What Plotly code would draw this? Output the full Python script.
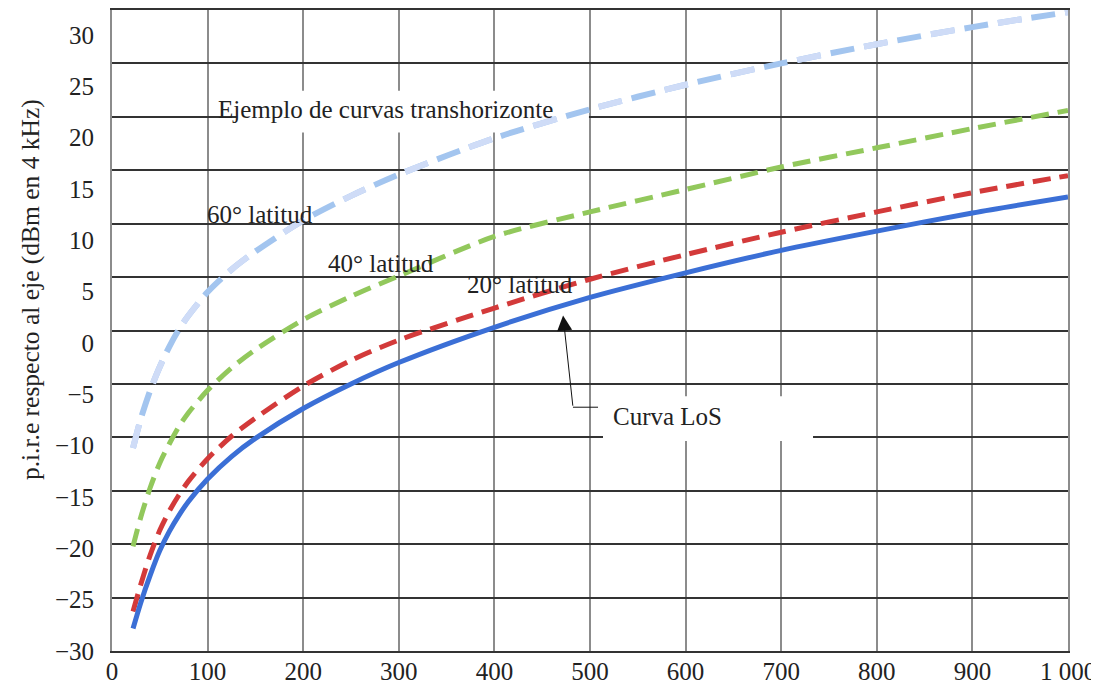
import plotly.graph_objects as go

# ---- data ----
distance = [22, 30, 40, 50, 60, 70, 80, 100, 125, 150, 200, 250, 300, 400, 500, 600, 700, 800, 900, 1000]
los = [-27.9, -25.5, -22.9, -20.6, -18.8, -17.3, -16.0, -13.9, -11.8, -10.1, -7.3, -5.0, -3.0, 0.3, 3.1, 5.4, 7.5, 9.3, 11.0, 12.5]
lat20 = [-26.3, -23.8, -21.0, -18.7, -16.9, -15.4, -14.1, -12.0, -9.9, -8.2, -5.2, -2.8, -0.9, 2.1, 4.8, 7.1, 9.2, 11.1, 12.9, 14.5]
lat40 = [-20.2, -17.5, -14.7, -12.4, -10.6, -9.0, -7.7, -5.6, -3.5, -1.8, 1.0, 3.2, 5.1, 8.8, 11.1, 13.2, 15.3, 17.1, 18.9, 20.6]
lat60 = [-11.0, -8.3, -5.6, -3.4, -1.5, 0.1, 1.4, 3.6, 5.7, 7.4, 10.3, 12.6, 14.6, 18.0, 20.7, 23.0, 25.0, 26.8, 28.4, 29.8]

x_ticks = [0, 100, 200, 300, 400, 500, 600, 700, 800, 900, 1000]
x_ticktext = ["0", "100", "200", "300", "400", "500", "600", "700", "800", "900", "1 000"]
y_ticks = [-30, -25, -20, -15, -10, -5, 0, 5, 10, 15, 20, 25, 30]

FONT = "Liberation Serif"
W, H = 1091, 678          # page body has an 8 px margin
ML, MR, MT, MB = 104, 31, 0, 35

fig = go.Figure()

# 60° curve: pale blue dashes, every other dash in a lighter tint
fig.add_trace(go.Scatter(x=distance, y=lat60, mode="lines",
                         line=dict(color="#a3c5ef", width=6, dash="24px,10px", shape="spline", smoothing=0.8),
                         showlegend=False, hoverinfo="skip"))
fig.add_trace(go.Scatter(x=distance, y=lat60, mode="lines",
                         line=dict(color="#cfdcf7", width=6, dash="24px,44px", shape="spline", smoothing=0.8),
                         showlegend=False, hoverinfo="skip"))
fig.add_trace(go.Scatter(x=distance, y=lat40, mode="lines",
                         line=dict(color="#92c85c", width=5, dash="18px,9px", shape="spline", smoothing=0.8),
                         showlegend=False, hoverinfo="skip"))
fig.add_trace(go.Scatter(x=distance, y=lat20, mode="lines",
                         line=dict(color="#d33a3a", width=5, dash="18px,9px", shape="spline", smoothing=0.8),
                         showlegend=False, hoverinfo="skip"))
fig.add_trace(go.Scatter(x=distance, y=los, mode="lines",
                         line=dict(color="#3b6fd6", width=5, shape="spline", smoothing=0.8),
                         showlegend=False, hoverinfo="skip"))
# invisible trace so the label axis is drawn
fig.add_trace(go.Scatter(x=[None], y=[None], yaxis="y2", showlegend=False, hoverinfo="skip"))

fig.update_layout(
    width=W, height=H,
    margin=dict(l=ML, r=MR, t=MT, b=MB),
    paper_bgcolor="white", plot_bgcolor="white",
    font=dict(family=FONT, size=25, color="#222"),
    xaxis=dict(range=[0, 1000], tickvals=x_ticks, ticktext=x_ticktext,
               showgrid=True, gridcolor="#8c8c8c", gridwidth=1.5,
               showline=True, linecolor="#333", linewidth=1.5, mirror=True,
               zeroline=False, ticks="", ticklabelstandoff=-3,
               tickfont=dict(family=FONT, size=25, color="#222")),
    yaxis=dict(range=[-30, 30], tickvals=y_ticks, showticklabels=False,
               showgrid=True, gridcolor="#333", gridwidth=1.5,
               showline=True, linecolor="#8c8c8c", linewidth=1.5, mirror=True,
               zeroline=False, ticks=""),
    yaxis2=dict(range=[-30, 32.43], overlaying="y", side="left", anchor="x",
                tickvals=y_ticks, showgrid=False, showline=False, zeroline=False,
                ticks="", ticklabelstandoff=17,
                tickfont=dict(family=FONT, size=25, color="#222")),
)

# white boxes behind labels (cover grid, not curves)
fig.add_shape(type="rect", x0=130.8, x1=498.9, y0=18.54, y1=22.45, xref="x", yref="y",
              fillcolor="white", line=dict(width=0), layer="between")
fig.add_shape(type="rect", x0=513.6, x1=733.3, y0=-10.34, y1=-6.15, xref="x", yref="y",
              fillcolor="white", line=dict(width=0), layer="between")

ann_font = dict(family=FONT, size=25, color="#222")
labels = [
    ("Ejemplo de curvas transhorizonte", 285.6, 20.7),
    ("60° latitud", 154.8, 10.85),
    ("40° latitud", 281.4, 6.24),
    ("20° latitud", 426.8, 4.28),
    ("Curva LoS", 581.0, -8.06),
]
for txt, ax_, ay_ in labels:
    fig.add_annotation(text=txt, x=ax_, y=ay_, xref="x", yref="y", showarrow=False,
                       xanchor="center", yanchor="middle", font=ann_font)

# arrow pointing to LoS curve
fig.add_annotation(text="", x=471.8, y=1.40, ax=482.2, ay=-7.18, xref="x", yref="y",
                   axref="x", ayref="y", showarrow=True, arrowhead=2, arrowsize=3,
                   arrowwidth=1, arrowcolor="#111", standoff=0)
fig.add_shape(type="line", x0=482.2, x1=508.4, y0=-7.18, y1=-7.18, xref="x", yref="y",
              line=dict(color="#111", width=1))

# y axis title
fig.add_annotation(text="p.i.r.e respecto al eje (dBm en 4 kHz)", xref="paper", yref="paper",
                   x=-82 / 956, y=0.563, textangle=-90,
                   showarrow=False, xanchor="center", yanchor="middle",
                   font=dict(family=FONT, size=25.5, color="#222"))

fig.write_html("out.html")
